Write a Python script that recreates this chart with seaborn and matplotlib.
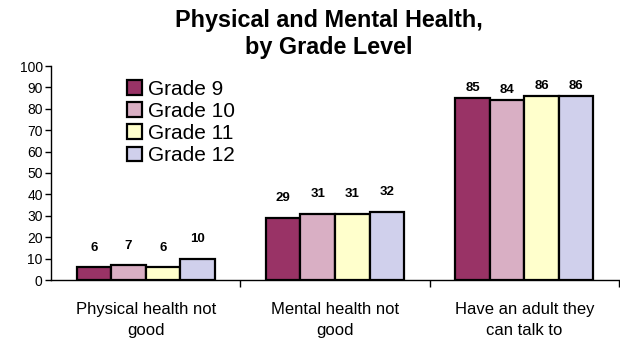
import matplotlib
matplotlib.use("Agg")
import matplotlib.pyplot as plt
from matplotlib.patches import Patch
import seaborn as sns
import pandas as pd

categories = ["Physical health not\ngood", "Mental health not\ngood", "Have an adult they\ncan talk to"]
grades = ["Grade 9", "Grade 10", "Grade 11", "Grade 12"]
grade9 = [6, 29, 85]
grade10 = [7, 31, 84]
grade11 = [6, 31, 86]
grade12 = [10, 32, 86]
yticks = list(range(0, 101, 10))

colors = ["#993366", "#D9AFC4", "#FFFFCC", "#D0D0EC"]

rows = []
for g, vals in zip(grades, [grade9, grade10, grade11, grade12]):
    for c, v in zip(categories, vals):
        rows.append({"category": c, "grade": g, "value": v})
df = pd.DataFrame(rows)

sns.set_theme(style="white")
plt.rcParams["font.family"] = ["Liberation Sans", "DejaVu Sans"]
plt.rcParams["text.color"] = "black"
plt.rcParams["xtick.color"] = "black"
plt.rcParams["ytick.color"] = "black"

fig = plt.figure(figsize=(6.2, 3.41), dpi=100)
ax = fig.add_axes([51 / 620, 1 - 280 / 341, 568 / 620, 214 / 341])

sns.barplot(data=df, x="category", y="value", hue="grade", order=categories,
            hue_order=grades, palette=colors, width=0.73, saturation=1,
            edgecolor="black", linewidth=1.6, legend=False, ax=ax)

# label offsets (points) above each category group
label_offsets = [14, 14, 7.5]
for gi, cont in enumerate(ax.containers):
    for ci, bar in enumerate(cont):
        v = bar.get_height()
        ax.annotate(f"{v:g}", (bar.get_x() + bar.get_width() / 2, v),
                    xytext=(0, label_offsets[ci]), textcoords="offset points",
                    ha="center", va="center", fontsize=9.5, fontweight="bold",
                    color="black")

ax.set_ylim(0, 100)
ax.set_xlim(-0.5, 2.5)
ax.set_yticks(yticks)
ax.set_yticklabels([str(t) for t in yticks], fontsize=10)
ax.set_xticks(range(len(categories)))
ax.set_xticklabels(categories, fontsize=12, linespacing=1.5)
ax.set_xticks([0.5, 1.5, 2.5], minor=True)
ax.tick_params(axis="x", which="major", length=0, pad=16)
ax.tick_params(axis="x", which="minor", length=5, width=1, color="black", direction="out", bottom=True)
ax.tick_params(axis="y", length=4, width=1, color="black", direction="out", left=True, pad=2)
ax.set_xlabel("")
ax.set_ylabel("")
for s in ["top", "right"]:
    ax.spines[s].set_visible(False)
for s in ["left", "bottom"]:
    ax.spines[s].set_color("black")
    ax.spines[s].set_linewidth(1)

handles = [Patch(facecolor=c, edgecolor="black", linewidth=1.6) for c in colors]
ax.legend(handles, grades, loc="upper left", bbox_to_anchor=(0.112, 0.994),
          frameon=False, fontsize=15, handlelength=0.7, handleheight=0.7,
          handletextpad=0.3, labelspacing=0.15, borderaxespad=0.2)

fig.text(0.53, 1 - 34 / 341, "Physical and Mental Health,\nby Grade Level", ha="center", va="center",
         fontsize=16.8, fontweight="bold", linespacing=1.2)

fig.savefig("out.png", dpi=100)
